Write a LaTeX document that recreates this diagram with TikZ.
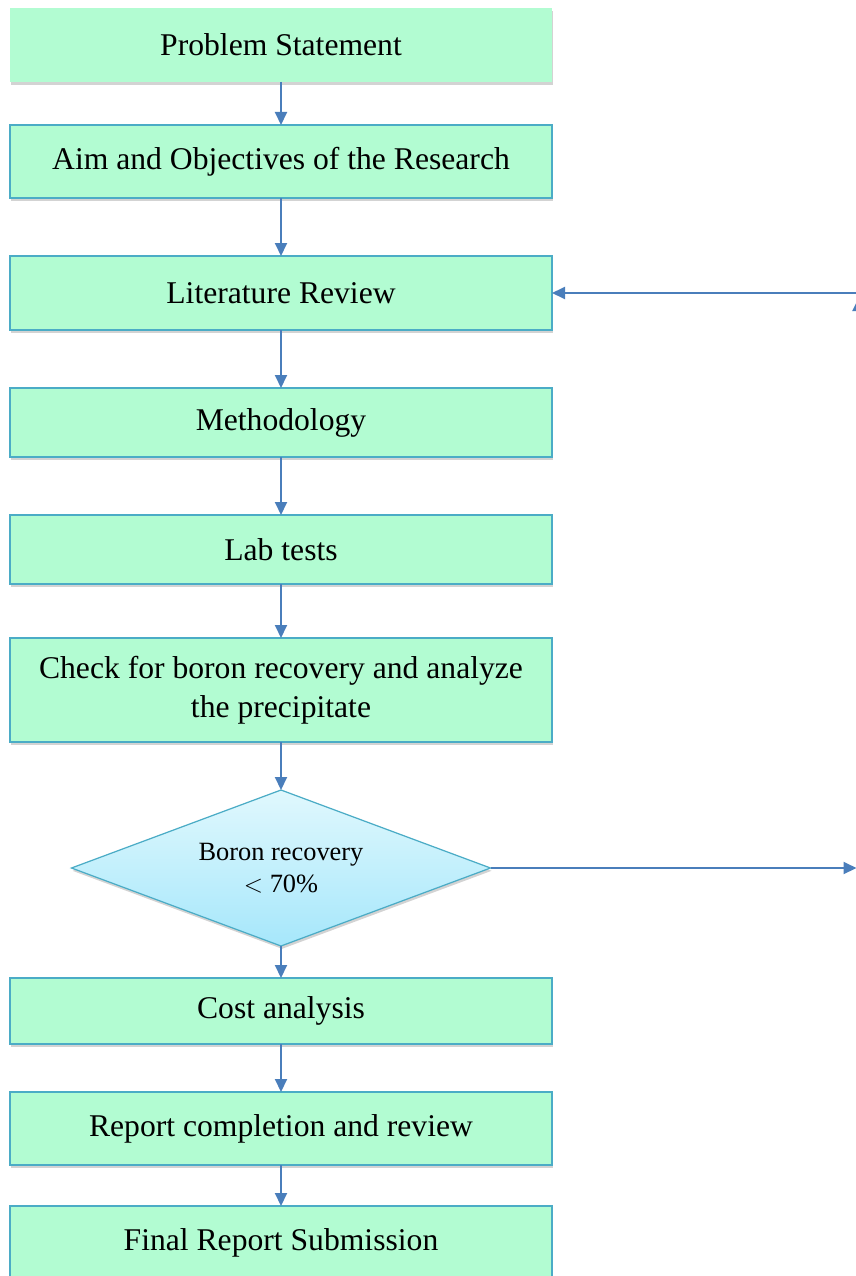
\documentclass[tikz,border=0pt]{standalone}
\usepackage{fontspec}
\setmainfont{Liberation Serif}
\usetikzlibrary{arrows.meta,positioning,shapes.geometric,shadows}
\definecolor{boxfill}{HTML}{B2FCD2}
\definecolor{boxline}{HTML}{4BACC6}
\definecolor{flowblue}{HTML}{4A7EBB}
\definecolor{diatop}{HTML}{E0F8FD}
\definecolor{diabot}{HTML}{A6E7FB}

\begin{document}
\begin{tikzpicture}[
    procbox/.style={rectangle,draw=boxline,line width=0.7pt,fill=boxfill,minimum width=10.84cm,
      inner sep=2pt,outer sep=0pt,align=center,font=\fontsize{18}{22}\selectfont,
      drop shadow={shadow xshift=0.6pt,shadow yshift=-1.6pt,opacity=0.35}},
    decision/.style={diamond,draw=boxline,line width=0.7pt,top color=diatop,bottom color=diabot,
      aspect=2.686,minimum width=8.38cm,minimum height=3.12cm,inner sep=0pt,outer sep=0pt,align=center,
      font=\fontsize{15}{18}\selectfont,
      drop shadow={shadow xshift=0.6pt,shadow yshift=-1.6pt,opacity=0.35}},
    flow/.style={-{Triangle[length=2.6mm,width=2.4mm]},flowblue,line width=1.1pt}]

  \useasboundingbox (0,0) rectangle (17.12,-25.52);
  \clip (0,0) rectangle (17.12,-25.52);

  \node[procbox,draw=none,minimum height=1.48cm] (prob) at (5.62,-0.9) {Problem Statement};
  \node[procbox,minimum height=1.46cm,below=0.86cm of prob] (aim) {Aim and Objectives of the Research};
  \node[procbox,minimum height=1.48cm,below=1.16cm of aim] (lit) {Literature Review};
  \node[procbox,minimum height=1.38cm,below=1.16cm of lit] (meth) {Methodology};
  \node[procbox,minimum height=1.38cm,below=1.16cm of meth] (lab) {Lab tests};
  \node[procbox,minimum height=2.08cm,below=1.08cm of lab] (check)
        {Check for boron recovery and analyze\\the precipitate};
  \node[decision,below=0.96cm of check] (dec) {Boron recovery\\$<$ 70\%};
  \node[procbox,minimum height=1.32cm,below=0.64cm of dec] (cost) {Cost analysis};
  \node[procbox,minimum height=1.46cm,below=0.96cm of cost] (rep) {Report completion and review};
  \node[procbox,minimum height=1.48cm,below=0.82cm of rep] (final) {Final Report Submission};

  \draw[flow] (prob) -- (aim);
  \draw[flow] (aim) -- (lit);
  \draw[flow] (lit) -- (meth);
  \draw[flow] (meth) -- (lab);
  \draw[flow] (lab) -- (check);
  \draw[flow] (check) -- (dec);
  \draw[flow] (dec) -- (cost);
  \draw[flow] (cost) -- (rep);
  \draw[flow] (rep) -- (final);

  % loop back, running off the right edge
  \coordinate (outA) at (17.13,-17.40);
  \coordinate (upA) at (17.17,-5.96);
  \coordinate (backA) at (17.2,-5.86);
  \draw[flow] (dec.east) -- (dec.east -| outA);
  \draw[flow] (upA |- dec.east) -- (upA);
  \draw[flow] (lit.east -| backA) -- (lit.east);
\end{tikzpicture}
\end{document}
